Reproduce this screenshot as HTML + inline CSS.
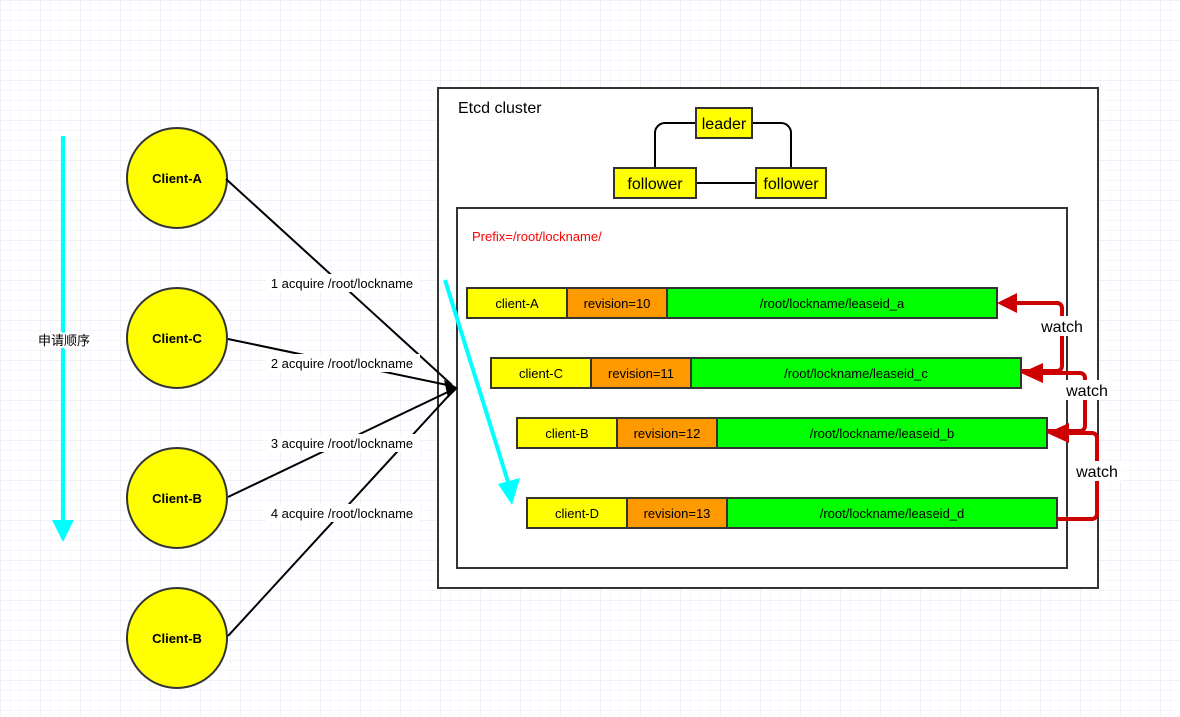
<!DOCTYPE html>
<html><head><meta charset="utf-8"><style>
html,body{margin:0;padding:0;width:1180px;height:717px;overflow:hidden;background:#fff}
</style></head><body>
<svg width="1180" height="717" xmlns="http://www.w3.org/2000/svg" font-family="Liberation Sans, Noto Sans CJK SC, sans-serif">
<defs>
<pattern id="g" width="10" height="10" patternUnits="userSpaceOnUse"><path d="M10 0H0V10" fill="none" stroke="#ececf8" stroke-width="1"/></pattern>
<pattern id="G" width="40" height="40" patternUnits="userSpaceOnUse"><rect width="40" height="40" fill="url(#g)"/><path d="M40 0H0V40" fill="none" stroke="#e0e0f4" stroke-width="1"/></pattern>
</defs>
<rect width="1180" height="717" fill="url(#G)"/>
<!-- cyan order arrow -->
<line x1="63" y1="136" x2="63" y2="522" stroke="#00ffff" stroke-width="4"/>
<polygon points="52,520 74,520 63,542" fill="#00ffff"/>
<text x="64" y="345" font-size="13" text-anchor="middle" fill="#000" style="paint-order:stroke" stroke="#fff" stroke-width="4">申请顺序</text>
<!-- clients -->
<g stroke="#333" stroke-width="2" fill="#ffff00">
<circle cx="177" cy="178" r="50"/><circle cx="177" cy="338" r="50"/><circle cx="177" cy="498" r="50"/><circle cx="177" cy="638" r="50"/>
</g>
<g font-size="13" font-weight="bold" text-anchor="middle">
<text x="177" y="183">Client-A</text><text x="177" y="343">Client-C</text><text x="177" y="503">Client-B</text><text x="177" y="643">Client-B</text>
</g>
<!-- cluster -->
<rect x="438" y="88" width="660" height="500" fill="#fff" stroke="#333" stroke-width="2"/>
<text x="458" y="113" font-size="16">Etcd cluster</text>
<path d="M655 168V133a10 10 0 0 1 10-10H696M752 123H781a10 10 0 0 1 10 10V168M697 183H756" fill="none" stroke="#000" stroke-width="2"/>
<g stroke="#333" stroke-width="2" fill="#ffff00">
<rect x="696" y="108" width="56" height="30"/><rect x="614" y="168" width="82" height="30"/><rect x="756" y="168" width="70" height="30"/>
</g>
<g font-size="16" text-anchor="middle"><text x="724" y="129">leader</text><text x="655" y="189">follower</text><text x="791" y="189">follower</text></g>
<rect x="457" y="208" width="610" height="360" fill="#fff" stroke="#333" stroke-width="2"/>
<text x="472" y="241" font-size="13" fill="#ff0000">Prefix=/root/lockname/</text>
<!-- rows -->
<g stroke="#333" stroke-width="2" font-size="13">
<rect x="467" y="288" width="100" height="30" fill="#ff0"/><rect x="567" y="288" width="100" height="30" fill="#ff9900"/><rect x="667" y="288" width="330" height="30" fill="#00ff00"/>
<rect x="491" y="358" width="100" height="30" fill="#ff0"/><rect x="591" y="358" width="100" height="30" fill="#ff9900"/><rect x="691" y="358" width="330" height="30" fill="#00ff00"/>
<rect x="517" y="418" width="100" height="30" fill="#ff0"/><rect x="617" y="418" width="100" height="30" fill="#ff9900"/><rect x="717" y="418" width="330" height="30" fill="#00ff00"/>
<rect x="527" y="498" width="100" height="30" fill="#ff0"/><rect x="627" y="498" width="100" height="30" fill="#ff9900"/><rect x="727" y="498" width="330" height="30" fill="#00ff00"/>
</g>
<g font-size="13" text-anchor="middle">
<text x="517" y="308">client-A</text><text x="617" y="308">revision=10</text><text x="832" y="308">/root/lockname/leaseid_a</text>
<text x="541" y="378">client-C</text><text x="641" y="378">revision=11</text><text x="856" y="378">/root/lockname/leaseid_c</text>
<text x="567" y="438">client-B</text><text x="667" y="438">revision=12</text><text x="882" y="438">/root/lockname/leaseid_b</text>
<text x="577" y="518">client-D</text><text x="677" y="518">revision=13</text><text x="892" y="518">/root/lockname/leaseid_d</text>
</g>
<!-- acquire lines -->
<g stroke="#000" stroke-width="2" fill="none">
<line x1="226" y1="179" x2="452" y2="385"/><line x1="228" y1="339" x2="452" y2="386"/>
<line x1="228" y1="497" x2="452" y2="390"/><line x1="228" y1="636" x2="452" y2="392"/>
</g>
<polygon points="444,380 458,388 448,398" fill="#000"/>
<g font-size="13" text-anchor="middle">
<rect x="266" y="274" width="154" height="18" fill="#fff"/><text x="342" y="288">1 acquire /root/lockname</text>
<rect x="266" y="354" width="154" height="18" fill="#fff"/><text x="342" y="368">2 acquire /root/lockname</text>
<rect x="266" y="434" width="154" height="18" fill="#fff"/><text x="342" y="448">3 acquire /root/lockname</text>
<rect x="266" y="504" width="154" height="18" fill="#fff"/><text x="342" y="518">4 acquire /root/lockname</text>
</g>
<!-- cyan diagonal -->
<line x1="445" y1="280" x2="509" y2="485" stroke="#00ffff" stroke-width="4"/>
<polygon points="498,484 520,478 512,505" fill="#00ffff"/>
<!-- watch arrows -->
<g stroke="#cc0000" stroke-width="4" fill="none">
<path d="M1021 371H1057a5 5 0 0 0 5-5V308a5 5 0 0 0-5-5H1010"/>
<path d="M1047 431H1080a5 5 0 0 0 5-5V378a5 5 0 0 0-5-5H1034"/>
<path d="M1057 519H1092a5 5 0 0 0 5-5V438a5 5 0 0 0-5-5H1060"/>
</g>
<g fill="#cc0000">
<polygon points="997,303 1017,293 1017,313"/>
<polygon points="1021,373 1043,363 1043,383"/>
<polygon points="1047,433 1069,423 1069,443"/>
</g>
<g font-size="16" text-anchor="middle">
<rect x="1038" y="316" width="48" height="20" fill="#fff"/><text x="1062" y="332">watch</text>
<rect x="1063" y="380" width="48" height="20" fill="#fff"/><text x="1087" y="396">watch</text>
<rect x="1073" y="461" width="48" height="20" fill="#fff"/><text x="1097" y="477">watch</text>
</g>
</svg>
</body></html>
